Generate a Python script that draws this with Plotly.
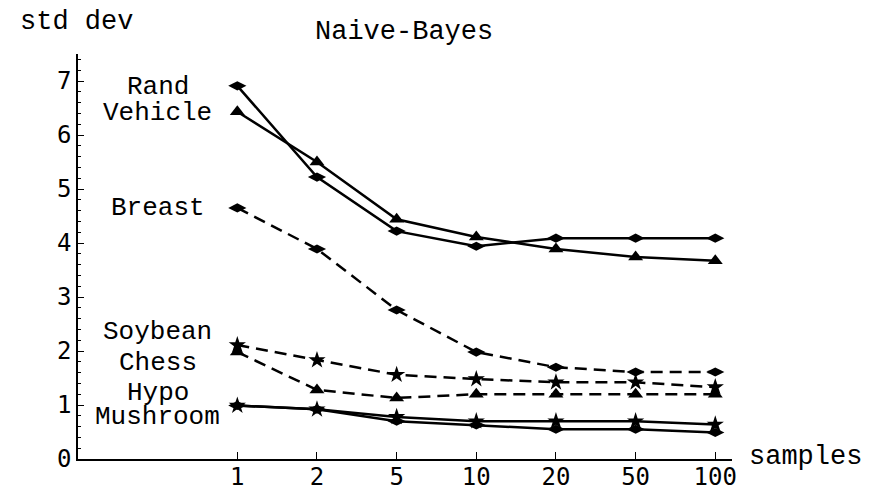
import plotly.graph_objects as go

samples = ["1", "2", "5", "10", "20", "50", "100"]

rand = [6.91, 5.22, 4.22, 3.94, 4.09, 4.09, 4.09]
vehicle = [6.43, 5.50, 4.44, 4.11, 3.89, 3.74, 3.67]
breast = [4.65, 3.89, 2.76, 1.98, 1.70, 1.61, 1.61]
soybean = [2.11, 1.83, 1.56, 1.48, 1.42, 1.42, 1.33]
chess = [1.98, 1.28, 1.13, 1.20, 1.20, 1.20, 1.20]
hypo = [0.99, 0.92, 0.78, 0.70, 0.70, 0.70, 0.64]
mushroom = [0.99, 0.92, 0.70, 0.63, 0.55, 0.55, 0.49]

series = [
    ("Rand", rand, "solid", "diamond-wide"),
    ("Vehicle", vehicle, "solid", "triangle-up"),
    ("Breast", breast, "12px,7px", "diamond-wide"),
    ("Soybean", soybean, "12px,7px", "star"),
    ("Chess", chess, "12px,7px", "triangle-up"),
    ("Hypo", hypo, "solid", "star"),
    ("Mushroom", mushroom, "solid", "diamond-wide"),
]

label_y = {"Rand": 6.89, "Vehicle": 6.41, "Breast": 4.65, "Soybean": 2.35,
           "Chess": 1.78, "Hypo": 1.22, "Mushroom": 0.78}

FONT = "Liberation Mono"
TICKFONT = "DejaVu Sans Mono"

W, H = 875, 491
ml, mr, mt, mb = 78, 143, 54, 32
pw, ph = W - ml - mr, H - mt - mb


def px(xp, yp):
    return (xp - ml) / pw, (H - yp - mb) / ph


fig = go.Figure()
for name, vals, dash, sym in series:
    fig.add_trace(go.Scatter(
        x=samples, y=vals, mode="lines+markers", name=name,
        line=dict(color="black", width=2.5, dash=dash),
        marker=dict(symbol=sym, size=13, color="black"),
        showlegend=False,
    ))

for name, _, _, _ in series:
    fig.add_annotation(x=-1, y=label_y[name], xref="x", yref="y", text=name,
                       showarrow=False, font=dict(family=FONT, size=26, color="black"),
                       xanchor="center", yanchor="middle")

for txt, xp, yp in [("Naive-Bayes", 404, 32), ("std dev", 76, 22), ("samples", 805, 457)]:
    xx, yy = px(xp, yp)
    fig.add_annotation(x=xx, y=yy, xref="paper", yref="paper", text=txt,
                       showarrow=False, xanchor="center", yanchor="middle",
                       font=dict(family=FONT, size=27, color="black"))

fig.update_layout(
    width=W, height=H,
    margin=dict(l=ml, r=mr, t=mt, b=mb, autoexpand=False),
    paper_bgcolor="white", plot_bgcolor="white",
    font=dict(family=TICKFONT, size=24, color="black"),
)
fig.update_xaxes(
    type="category", categoryorder="array", categoryarray=samples,
    range=[-2, 6.21], showgrid=False, zeroline=False, automargin=False,
    showline=True, linecolor="black", linewidth=1.5,
    ticks="inside", ticklen=7, tickcolor="black", tickwidth=1,
    ticklabelstandoff=-5,
    tickfont=dict(family=TICKFONT, size=24),
)
fig.update_yaxes(
    range=[0, 7.5], dtick=1, showgrid=False, zeroline=False, automargin=False,
    showline=True, linecolor="black", linewidth=1.5,
    ticks="inside", ticklen=6, tickcolor="black", tickwidth=1,
    minor=dict(dtick=0.2, ticks="inside", ticklen=3, tickcolor="black", tickwidth=1, showgrid=False),
    tickfont=dict(family=TICKFONT, size=24),
)

fig.write_html("out.html")
